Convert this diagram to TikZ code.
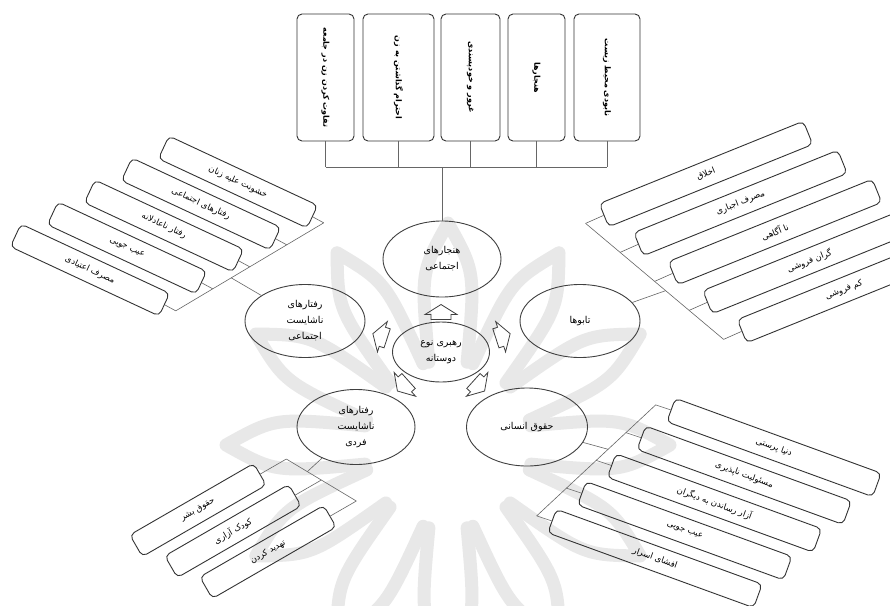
\documentclass[tikz,border=0pt]{standalone}
\usepackage{fontspec}
\newfontfamily\arabicfont[Script=Arabic]{DejaVu Sans}
\TeXXeTstate=1
\usetikzlibrary{calc,shapes.geometric}
\newcommand{\fa}[1]{\beginR #1\endR}
\tikzset{
  fbox/.style={draw=black!80, line width=0.9pt, rounded corners=5pt, inner sep=0pt, align=center, font=\arabicfont\fontsize{8.5}{10}\selectfont},
  topbox/.style={fbox, rotate=-90, minimum width=127pt, font=\arabicfont\bfseries\fontsize{8}{10}\selectfont},
  lbox/.style={fbox, rotate=-25, minimum width=164pt, minimum height=25pt},
  rbox/.style={fbox, rotate=22, minimum width=220pt, minimum height=25pt},
  brbox/.style={fbox, rotate=-20, minimum width=219pt, minimum height=25pt},
  blbox/.style={fbox, rotate=30, minimum width=143pt, minimum height=25pt},
  oval/.style={ellipse, draw=black!75, line width=0.9pt, inner sep=0pt, align=center, font=\arabicfont\fontsize{9.5}{16}\selectfont},
  link/.style={draw=black!60, line width=0.6pt},
  wm/.style={draw=black!9, line width=13pt, line cap=round, line join=round},
  barrow/.pic={\draw[draw=black!75, line width=0.8pt, line join=miter] (-7.5,-10) -- (-2.5,-10) -- (-2.5,-16) -- (7.5,0) -- (-2.5,16) -- (-2.5,10) -- (-7.5,10) -- cycle;}
}
\begin{document}
\begin{tikzpicture}[x=1pt,y=-1pt]
\useasboundingbox (0,0) rectangle (890,605);
\clip (0,0) rectangle (890,605);
\fill[white] (0,0) rectangle (890,605);

% watermark
\coordinate (wc) at (448,445);
\foreach \a in {0,30,...,330}{
  \draw[wm] ($(wc)+({\a-13}:85)$) .. controls ($(wc)+({\a-9}:175)$) .. ($(wc)+(\a:222)$) .. controls ($(wc)+({\a+9}:175)$) .. ($(wc)+({\a+13}:85)$);
}

% top boxes
\node[topbox, minimum height=57pt] (t1) at (325.5,77.5) {\fa{تفاوت کردن زن در جامعه}};
\node[topbox, minimum height=71pt] (t2) at (398.5,77.5) {\fa{احترام گذاشتن به زن}};
\node[topbox, minimum height=59pt] (t3) at (470.5,77.5) {\fa{غرور و خودپسندی}};
\node[topbox, minimum height=57pt] (t4) at (536.5,77.5) {\fa{هنجارها}};
\node[topbox, minimum height=66pt] (t5) at (607,77.5) {\fa{نابودی محیط زیست}};

% circles
\node[oval, minimum width=118pt, minimum height=76pt] (ctop) at (442,259) {\fa{هنجارهای}\\\fa{اجتماعی}};
\node[oval, minimum width=120pt, minimum height=73pt] (cleft) at (305,321) {\fa{رفتارهای}\\\fa{ناشایست}\\\fa{اجتماعی}};
\node[oval, minimum width=97pt, minimum height=60pt] (ccen) at (441,352) {\fa{رهبری نوع}\\\fa{دوستانه}};
\node[oval, minimum width=120pt, minimum height=73pt] (cright) at (580,321) {\fa{تابوها}};
\node[oval, minimum width=118pt, minimum height=75pt] (cbl) at (356,427) {\fa{رفتارهای}\\\fa{ناشایست}\\\fa{فردی}};
\node[oval, minimum width=121pt, minimum height=78pt] (cbr) at (527,427) {\fa{حقوق انسانی}};

% top connectors
\coordinate (tb) at (442,167);
\foreach \i in {1,...,5}{\draw[link] (t\i.east) -- (t\i.east |- tb);}
\draw[link] (t1.east |- tb) -- (t5.east |- tb);
\draw[link] (tb) -- (ctop);

% arrows around centre
\pic[rotate=90] at (441,312) {barrow};
\pic[rotate=18] at (503,336) {barrow};
\pic[rotate=162] at (380,336) {barrow};
\pic[rotate=222] at (403,386) {barrow};
\pic[rotate=318] at (479,386) {barrow};

% left group
\node[lbox] (l1) at (238,182) {\fa{خشونت علیه زنان}};
\node[lbox] (l2) at (201,204) {\fa{رفتارهای اجتماعی}};
\node[lbox] (l3) at (164,226) {\fa{رفتار ناعادلانه}};
\node[lbox] (l4) at (127,248) {\fa{عیب جویی}};
\node[lbox] (l5) at (90,270) {\fa{مصرف اعتیادی}};
\foreach \i in {1,...,5}{\coordinate (ls\i) at ($(l\i.east)+(11,6)$); \draw[link] (l\i.east) -- (ls\i);}
\draw[link] (ls1) -- (ls5);
\coordinate (lc) at ($(ls3)!0.5!(ls4)$);
\draw[link] (lc) -- (cleft);

% right group
\node[rbox] (r1) at (706,174) {\fa{اخلاق}};
\node[rbox] (r2) at (740.5,203) {\fa{مصرف اجباری}};
\node[rbox] (r3) at (775,232) {\fa{نا آگاهی}};
\node[rbox] (r4) at (809.5,261) {\fa{گران فروشی}};
\node[rbox] (r5) at (844,290) {\fa{کم فروشی}};
\foreach \i in {1,...,5}{\coordinate (rs\i) at ($(r\i.west)+(-18,8)$); \draw[link] (r\i.west) -- (rs\i);}
\draw[link] (rs1) -- (rs5);
\coordinate (rc) at ($(rs1)!0.58!(rs5)$);
\draw[link] (rc) -- (cright);

% bottom-right group
\node[brbox] (q1) at (774,447.5) {\fa{دنیا پرستی}};
\node[brbox] (q2) at (744.25,475.25) {\fa{مسئولیت ناپذیری}};
\node[brbox] (q3) at (714.5,503) {\fa{آزار رساندن به دیگران}};
\node[brbox] (q4) at (684.75,530.75) {\fa{عیب جویی}};
\node[brbox] (q5) at (655,558.5) {\fa{افشای اسرار}};
\foreach \i in {1,...,5}{\coordinate (qs\i) at ($(q\i.west)+(-15,-5)$); \draw[link] (q\i.west) -- (qs\i);}
\draw[link] (qs1) -- (qs5);
\coordinate (qc) at ($(qs1)!0.4!(qs5)$);
\draw[link] (qc) -- (cbr);

% bottom-left group
\node[blbox] (p1) at (198,510) {\fa{حقوق بشر}};
\node[blbox] (p2) at (233,531) {\fa{کودک آزاری}};
\node[blbox] (p3) at (268,552) {\fa{تهدید کردن}};
\foreach \i in {1,...,3}{\coordinate (ps\i) at ($(p\i.east)+(26,-15)$); \draw[link] (p\i.east) -- (ps\i);}
\draw[link] (ps1) -- (ps3);
\coordinate (pc) at ($(ps1)!0.3!(ps3)$);
\draw[link] (pc) -- (cbl);
\end{tikzpicture}
\end{document}
